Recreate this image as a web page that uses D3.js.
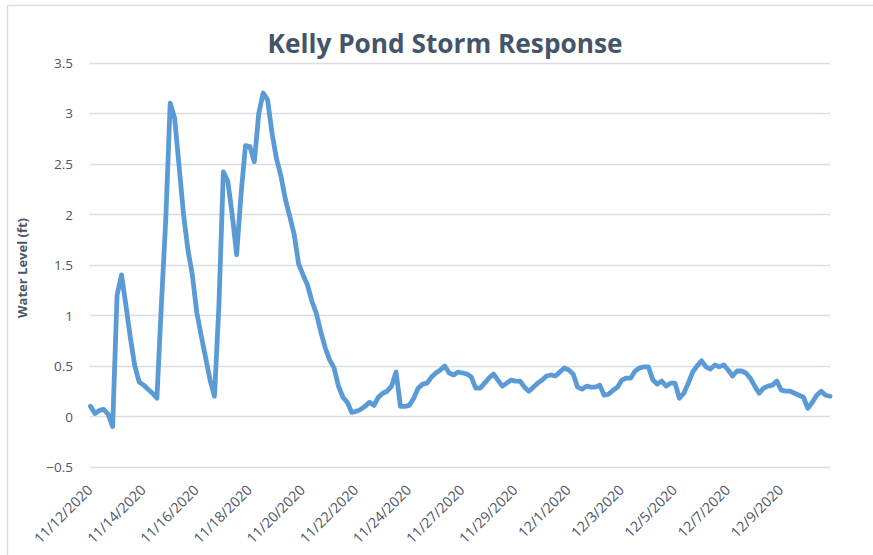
<!DOCTYPE html>
<html>
<head>
<meta charset="utf-8">
<script src="https://cdn.jsdelivr.net/npm/d3@7"></script>
<style>
  html, body { margin: 0; padding: 0; background: #fff; }
  svg { display: block; }
</style>
</head>
<body>
<svg id="chart" width="873" height="555"></svg>
<script>
// ---- data ----
const title = "Kelly Pond Storm Response";
const yAxisTitle = "Water Level (ft)";
const tickLabels = ["11/12/2020","11/14/2020","11/16/2020","11/18/2020","11/20/2020","11/22/2020","11/24/2020",
  "11/27/2020","11/29/2020","12/1/2020","12/3/2020","12/5/2020","12/7/2020","12/9/2020"];
const pointsPerLabel = 12;
const yTicks = [-0.5, 0, 0.5, 1, 1.5, 2, 2.5, 3, 3.5];
const waterLevel = [
  0.10, 0.03, 0.06, 0.07, 0.02, -0.10, 1.20, 1.40, 1.10, 0.78,
  0.50, 0.34, 0.31, 0.27, 0.23, 0.18, 1.10, 1.95, 3.10, 2.95,
  2.48, 2.00, 1.65, 1.40, 1.03, 0.80, 0.58, 0.36, 0.20, 1.10,
  2.42, 2.33, 2.00, 1.60, 2.20, 2.68, 2.67, 2.52, 3.00, 3.20,
  3.13, 2.80, 2.55, 2.38, 2.15, 1.98, 1.80, 1.51, 1.40, 1.30,
  1.14, 1.02, 0.84, 0.68, 0.56, 0.48, 0.30, 0.19, 0.14, 0.04,
  0.05, 0.07, 0.10, 0.14, 0.11, 0.19, 0.23, 0.25, 0.30, 0.44,
  0.10, 0.10, 0.11, 0.18, 0.28, 0.32, 0.33, 0.39, 0.43, 0.46,
  0.50, 0.43, 0.41, 0.44, 0.43, 0.42, 0.39, 0.28, 0.28, 0.33,
  0.38, 0.42, 0.36, 0.30, 0.33, 0.36, 0.35, 0.35, 0.29, 0.25,
  0.29, 0.33, 0.36, 0.40, 0.41, 0.40, 0.44, 0.48, 0.46, 0.42,
  0.29, 0.27, 0.30, 0.29, 0.29, 0.31, 0.21, 0.22, 0.26, 0.29,
  0.36, 0.38, 0.38, 0.45, 0.48, 0.49, 0.49, 0.36, 0.32, 0.35,
  0.30, 0.33, 0.33, 0.18, 0.23, 0.33, 0.44, 0.50, 0.55, 0.49,
  0.47, 0.51, 0.49, 0.51, 0.46, 0.40, 0.45, 0.45, 0.43, 0.38,
  0.30, 0.23, 0.28, 0.30, 0.31, 0.35, 0.26, 0.25, 0.25, 0.23,
  0.21, 0.19, 0.08, 0.14, 0.21, 0.25, 0.21, 0.20
];

// ---- layout ----
const svg = d3.select("#chart");
const plot = { left: 90.5, right: 830, top: 62.7, bottom: 467 };
const textColor = "#4d5667";

// chart border (top & left visible)
svg.append("rect").attr("x", 7.5).attr("y", 5.5).attr("width", 900).attr("height", 600)
  .attr("fill", "none").attr("stroke", "#d9dde3").attr("stroke-width", 1.5);

const x = d3.scaleLinear().domain([0, waterLevel.length - 1]).range([plot.left, plot.right]);
const y = d3.scaleLinear().domain([-0.5, 3.5]).range([plot.bottom, plot.top]);

// gridlines
svg.append("g").selectAll("line").data(yTicks).join("line")
  .attr("x1", plot.left - 1).attr("x2", plot.right)
  .attr("y1", d => Math.round(y(d)) + 0.5).attr("y2", d => Math.round(y(d)) + 0.5)
  .attr("stroke", "#dadee4").attr("stroke-width", 1.3);

// y axis labels
const yAxis = d3.axisLeft(y).tickValues(yTicks).tickSize(0).tickPadding(0)
  .tickFormat(d => d3.format("")(d));
const gy = svg.append("g").attr("transform", `translate(${73},0)`).call(yAxis);
gy.select(".domain").remove();
gy.selectAll("text").attr("font-family", "'Open Sans', sans-serif").attr("font-size", 13.5)
  .attr("fill", textColor).attr("dy", "0.35em");

// y axis title
svg.append("text")
  .attr("transform", `translate(27,268) rotate(-90)`)
  .attr("text-anchor", "middle")
  .attr("font-family", "'Open Sans', sans-serif").attr("font-weight", 700).attr("font-size", 13)
  .attr("fill", textColor).text(yAxisTitle);

// x axis labels
const xTickIdx = tickLabels.map((_, i) => i * pointsPerLabel);
const xAxis = d3.axisBottom(x).tickValues(xTickIdx).tickSize(0).tickPadding(0)
  .tickFormat((d, i) => tickLabels[i]);
const gx = svg.append("g").attr("transform", `translate(0,${plot.bottom})`).call(xAxis);
gx.select(".domain").remove();
gx.selectAll("text")
  .attr("font-family", "'Open Sans', sans-serif").attr("font-size", 14.2)
  .attr("fill", textColor)
  .attr("text-anchor", "end")
  .attr("y", 0).attr("dy", 0)
  .attr("transform", "translate(2.5,24) rotate(-45)");

// line
const line = d3.line().x((d, i) => x(i)).y(d => y(d)).curve(d3.curveLinear);
svg.append("path").datum(waterLevel)
  .attr("d", line).attr("fill", "none")
  .attr("stroke", "#5b9bd5").attr("stroke-width", 4.8)
  .attr("stroke-linejoin", "round").attr("stroke-linecap", "round");

// title
svg.append("text")
  .attr("x", 445).attr("y", 53).attr("text-anchor", "middle")
  .attr("font-family", "'Open Sans', sans-serif").attr("font-weight", 700).attr("font-size", 27)
  .attr("textLength", 355).attr("lengthAdjust", "spacingAndGlyphs")
  .attr("fill", "#44546a").text(title);
</script>
</body>
</html>
